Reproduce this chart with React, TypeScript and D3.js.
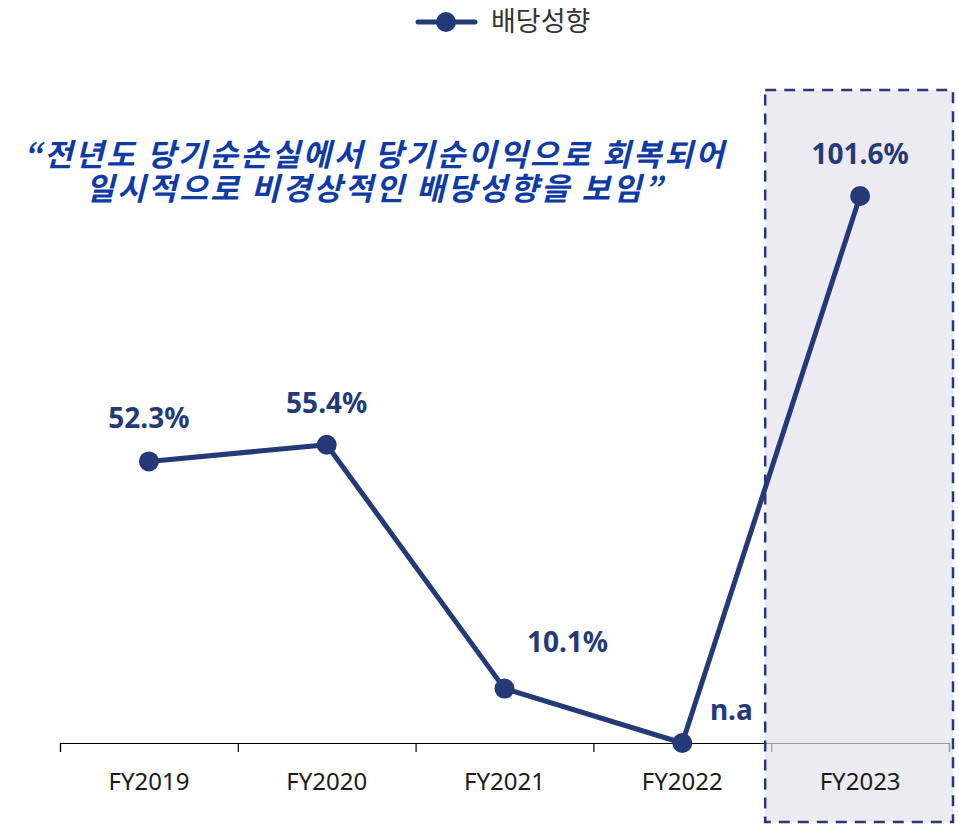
import React, { useEffect, useRef } from "react";
import * as d3 from "d3";

const categories = ["FY2019", "FY2020", "FY2021", "FY2022", "FY2023"];
const payout = [52.3, 55.4, 10.1, 0, 101.6];
const labels = ["52.3%", "55.4%", "10.1%", "n.a", "101.6%"];
const labelDx = [0, 0, 63, 49, 0];
const labelDy = [-33, -32, -37, -23, -32];
const legendLabel = "배당성향";
const noteLines = [
  "\u201C전년도 당기순손실에서 당기순이익으로 회복되어",
  "일시적으로 비경상적인 배당성향을 보임\u201D",
];

const W = 959;
const H = 825;
const NAVY = "#243A78";

export default function App() {
  const ref = useRef<SVGSVGElement>(null);

  useEffect(() => {
    const svg = d3.select(ref.current);
    svg.selectAll("*").remove();

    const left = 60, right = 949, baseY = 743;
    const x = d3.scaleBand<string>().domain(categories).range([left, right]).padding(0);
    const idx = d3.scaleLinear().domain([0, categories.length]).range([left, right]);
    const y = d3.scaleLinear().domain([0, 101.6]).range([baseY, 196]);

    // axis line + ticks
    const ax = svg.append("g").attr("transform", `translate(0,${baseY})`)
      .call(d3.axisBottom(idx).tickValues(d3.range(categories.length + 1)).tickSize(9).tickSizeOuter(9).tickFormat(() => ""));
    ax.selectAll("path,line").attr("stroke", "#000").attr("stroke-width", 1.2);

    // highlight box
    const last = categories[categories.length - 1];
    const bx = (x(last) as number) - 6;
    const bw = x.bandwidth() + 10;
    svg.append("rect")
      .attr("x", bx).attr("y", 90).attr("width", bw).attr("height", 732)
      .attr("fill", "rgb(225,226,234)").attr("fill-opacity", 0.68)
      .attr("stroke", NAVY).attr("stroke-width", 2.5)
      .attr("stroke-dasharray", "11 8");

    // tick labels
    const lab = svg.append("g").attr("transform", `translate(0,${baseY})`)
      .call(d3.axisBottom(x).tickSize(0).tickPadding(0));
    lab.select(".domain").remove();
    lab.selectAll("text")
      .attr("dy", 0).attr("y", 47)
      .attr("font-family", "'Noto Sans', sans-serif")
      .attr("font-size", 24).attr("fill", "#1a1a1a");

    // line
    const cx = (c: string) => (x(c) as number) + x.bandwidth() / 2;
    const line = d3.line<number>().x((_, i) => cx(categories[i])).y((d) => y(d));
    svg.append("path").datum(payout).attr("d", line)
      .attr("fill", "none").attr("stroke", NAVY).attr("stroke-width", 5)
      .attr("stroke-linejoin", "round");
    svg.selectAll("circle.pt").data(payout).enter().append("circle")
      .attr("class", "pt")
      .attr("cx", (_, i) => cx(categories[i])).attr("cy", (d) => y(d))
      .attr("r", 10).attr("fill", NAVY);

    // value labels
    svg.selectAll("text.val").data(payout).enter().append("text")
      .attr("class", "val")
      .attr("x", (_, i) => cx(categories[i]) + labelDx[i])
      .attr("y", (d, i) => y(d) + labelDy[i])
      .attr("text-anchor", "middle")
      .attr("font-family", "'Noto Sans', sans-serif")
      .attr("font-weight", 700).attr("font-size", 28).attr("fill", NAVY)
      .text((_, i) => labels[i]);

    // note
    svg.append("g").selectAll("text").data(noteLines).enter().append("text")
      .attr("x", 375).attr("y", (_, i) => 166 + i * 34)
      .attr("text-anchor", "middle")
      .attr("font-family", "'Noto Sans CJK KR', sans-serif")
      .attr("font-weight", 700).attr("font-style", "italic")
      .attr("font-size", 31).attr("letter-spacing", 2.6).attr("fill", "#0E3BA5")
      .text((d) => d);

    // legend
    const lg = svg.append("g");
    lg.append("line").attr("x1", 418).attr("x2", 475).attr("y1", 22).attr("y2", 22)
      .attr("stroke", NAVY).attr("stroke-width", 5).attr("stroke-linecap", "round");
    lg.append("circle").attr("cx", 446).attr("cy", 22).attr("r", 10).attr("fill", NAVY);
    lg.append("text").attr("x", 491).attr("y", 31)
      .attr("font-family", "'Noto Sans CJK KR', sans-serif")
      .attr("font-size", 27).attr("fill", "#333")
      .text(legendLabel);
  }, []);

  return (
    <svg ref={ref} width={W} height={H}
      style={{ position: "absolute", left: 0, top: 0, background: "#fff" }} />
  );
}
